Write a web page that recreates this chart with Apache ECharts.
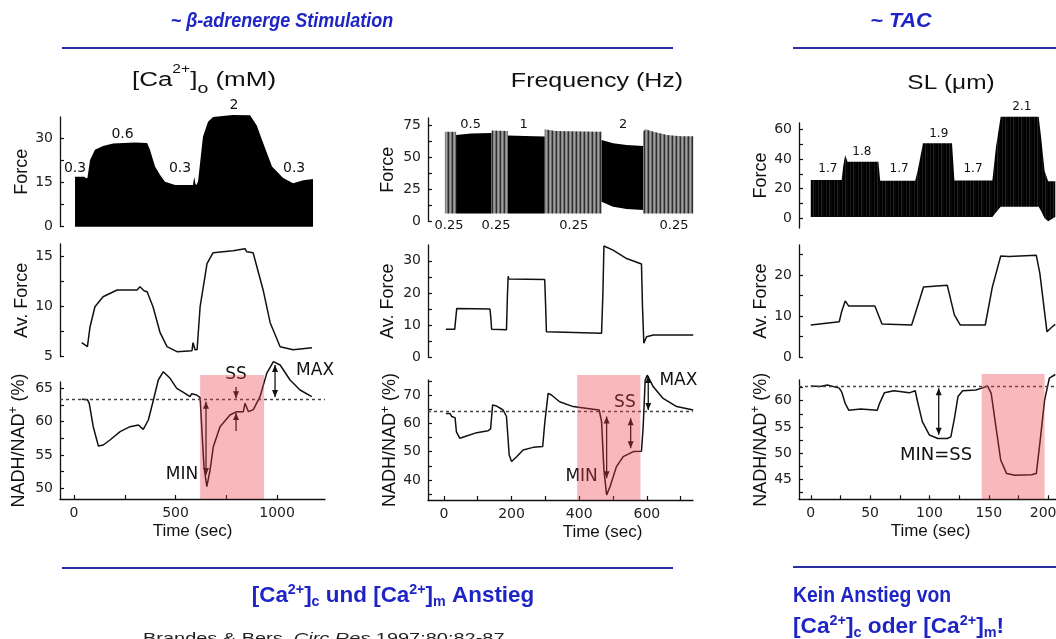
<!DOCTYPE html>
<html><head><meta charset="utf-8">
<script src="https://cdn.jsdelivr.net/npm/echarts@6/dist/echarts.min.js"></script>
<style>html,body{margin:0;padding:0;background:#fff}#c{width:1056px;height:639px}</style>
</head><body><div id="c"></div>
<script>
// ================= DATA =================
// ---- Column 1: [Ca2+]o ----
const caForceTime   = [5, 50, 60, 66, 79, 103, 143, 192, 300, 360, 374, 399, 424, 448, 498, 586, 592, 598, 604, 611, 635, 660, 685, 780, 867, 900, 926, 975, 1030, 1079, 1130, 1177];
const caForceTop    = [17, 17, 16.5, 16.6, 22.7, 26.2, 27.5, 28.4, 28.7, 28.5, 26.2, 20.5, 17.6, 15.3, 14.2, 14.2, 17, 14.5, 14.3, 15.5, 30.7, 35.8, 37.4, 38.1, 38, 34.5, 29.6, 20.5, 16.6, 14.8, 15.8, 16.3];
const caForceBottom = [0, 0, 0, 0, 0, 0, 0, 0, 0, 0, 0, 0, 0, 0, 0, 0, 0, 0, 0, 0, 0, 0, 0, 0, 0, 0, 0, 0, 0, 0, 0, 0];
const caForceLabels = ['0.3', '0.6', '0.3', '2', '0.3'];
const caForceLabelTime  = [5, 239, 522, 788, 1084];
const caForceLabelValue = [20, 31.6, 20, 41.2, 20];
const caAvTime  = [38, 66, 79, 103, 143, 212, 310, 325, 345, 360, 389, 424, 458, 507, 581, 586, 596, 606, 621, 655, 685, 783, 842, 850, 882, 931, 966, 1015, 1079, 1172];
const caAvValue = [6.4, 6.0, 8.0, 10.0, 11.0, 11.67, 11.67, 12.0, 11.6, 11.5, 10.0, 7.4, 6.0, 5.5, 5.6, 6.4, 5.7, 5.7, 10.0, 14.3, 15.4, 15.6, 15.8, 15.5, 15.4, 11.7, 8.4, 6.0, 5.7, 5.9];
const caNadhTime  = [38, 66, 75, 95, 120, 144, 177, 227, 276, 317, 341, 366, 391, 415, 440, 473, 506, 547, 571, 580, 604, 621, 629, 640, 654, 670, 686, 719, 768, 801, 834, 842, 859, 883, 916, 949, 982, 1015, 1064, 1113, 1171];
const caNadhValue = [63.35, 63.3, 62.75, 59.2, 56.35, 56.5, 57.25, 58.5, 59.25, 59.5, 58.85, 60.25, 63.25, 66.25, 67.5, 66.5, 65, 64.25, 63.75, 64.2, 64.0, 63.6, 59.2, 53.25, 50.25, 52.75, 56.25, 59.25, 61.0, 61.5, 61.5, 62.75, 61.5, 61.8, 63.75, 67.25, 69, 68.5, 66.25, 64.75, 63.75];
const caBaseline = 63.35;
const caPink = [621, 936, 67];           // start time, end time, top value
const caNadhLabels = ['MIN', 'SS', 'MAX'];
const caNadhLabelTime  = [532, 798, 1187];
const caNadhLabelValue = [52.0, 67.0, 67.6];
const caArrowTime  = [650, 798, 798, 990];
const caArrowFrom  = [63.0, 65.2, 58.6, 68.5];
const caArrowTo    = [52.0, 63.5, 61.3, 63.7];
const caArrowHeads = [2, 1, 1, 2];
const caTimeLabels = [0, 500, 1000];
const caTimeTicks  = [0, 250, 500, 750, 1000];
const caForceAxisLabels = [0, 15, 30];
const caForceAxisTicks  = [0, 7.5, 15, 22.5, 30];
const caAvAxisLabels = [5, 10, 15];
const caAvAxisTicks  = [5, 7.5, 10, 12.5, 15];
const caNadhAxisLabels = [50, 55, 60, 65];
const caNadhAxisTicks  = [50, 52.5, 55, 57.5, 60, 62.5, 65];

// ---- Column 2: Frequency (Hz) ----
const freqSegTime   = [[3, 36], [36, 80, 141], [141, 189], [189, 240, 298], [298, 330, 466], [466, 500, 540, 589], [589, 595, 620, 660, 700, 737]];
const freqSegTop    = [[70, 70], [67.5, 68.5, 69], [71, 70.5], [67, 66.6, 66.3], [72, 70.5, 70], [63.5, 61, 59.6, 58.8], [70, 72, 70, 67.5, 66.5, 66.5]];
const freqSegBottom = [[6, 6], [6, 6, 6], [6, 6], [6, 6, 6], [6, 6, 6], [15.3, 11.4, 9.6, 8.8], [6, 6, 6, 6, 6, 6]];
const freqSegDense  = [false, true, false, true, false, true, false];
const freqForceLabels = ['0.5', '1', '2', '0.25', '0.25', '0.25', '0.25'];
const freqForceLabelTime  = [79, 236, 530, 15, 154, 384, 680];
const freqForceLabelValue = [75.2, 75.2, 75.2, -3.4, -3.4, -3.4, -3.4];
const freqAvTime  = [6, 32, 35, 38, 136, 139, 141, 185, 188, 190, 192, 298, 301, 303, 466, 470, 473, 500, 540, 584, 587, 591, 599, 619, 737];
const freqAvValue = [8.7, 8.7, 12, 15.2, 15.0, 12, 8.7, 8.6, 20, 25.2, 24.3, 24.2, 15, 7.95, 7.45, 20, 34.6, 33.3, 30.7, 29.0, 15.7, 4.35, 6.4, 6.9, 6.9];
const freqNadhTime  = [6, 18, 23, 33, 37, 47, 67, 97, 131, 138, 144, 156, 175, 185, 193, 200, 215, 234, 264, 292, 298, 308, 318, 342, 382, 441, 459, 466, 473, 481, 491, 510, 530, 560, 584, 589, 595, 601, 619, 648, 688, 737];
const freqNadhValue = [63.5, 63.5, 62.4, 62.0, 57, 54.7, 55.5, 56.7, 57.4, 58, 66.5, 66.1, 64.7, 62.4, 48.8, 46.5, 48.2, 50.6, 51.5, 51.8, 60, 70.6, 70, 67.6, 65.9, 65.0, 64.7, 60.6, 43.5, 34.7, 37.6, 44.7, 48.2, 50, 50.1, 58.8, 75.3, 77, 72.9, 68.8, 65.9, 64.7];
const freqBaseline = 64.1;
const freqPink = [394, 581, 77.1];
const freqNadhLabels = ['MIN', 'SS', 'MAX'];
const freqNadhLabelTime  = [407, 535, 693];
const freqNadhLabelValue = [41.2, 67.2, 75.0];
const freqArrowTime  = [481, 552, 604];
const freqArrowFrom  = [62.4, 61.8, 76.7];
const freqArrowTo    = [40.6, 51.2, 64.7];
const freqArrowHeads = [2, 2, 2];
const freqTimeLabels = [0, 200, 400, 600];
const freqTimeTicks  = [0, 100, 200, 300, 400, 500, 600, 700];
const freqForceAxisLabels = [0, 25, 50, 75];
const freqForceAxisTicks  = [0, 12.5, 25, 37.5, 50, 62.5, 75];
const freqAvAxisLabels = [0, 10, 20, 30];
const freqAvAxisTicks  = [0, 5, 10, 15, 20, 25, 30];
const freqNadhAxisLabels = [40, 50, 60, 70];
const freqNadhAxisTicks  = [35, 40, 45, 50, 55, 60, 65, 70, 75];

// ---- Column 3: SL (um) ----
const slForceTime   = [0, 26, 27.5, 29, 31, 57, 58.5, 88, 90, 92, 94.5, 119, 121, 153, 156, 160, 192, 194, 197, 200, 206];
const slForceTop    = [25.8, 25.8, 36, 42.7, 38.2, 38.2, 25.4, 25.4, 32, 40, 50.6, 50.6, 25.5, 25.5, 48, 68.5, 68.5, 55, 32, 25, 25];
const slForceBottom = [1, 1, 1, 1, 1, 1, 1, 1, 1, 1, 1, 1, 1, 1, 4, 7.8, 7.8, 5, 0, -2, 1];
const slForceLabels = ['1.7', '1.8', '1.7', '1.9', '1.7', '2.1'];
const slForceLabelTime  = [14.4, 43, 74.4, 107.8, 136.7, 177.8];
const slForceLabelValue = [33.7, 44.9, 33.7, 56.8, 33.7, 75.3];
const slAvTime  = [0, 24, 26, 29, 32, 54, 57, 60, 85, 92, 95, 115, 121, 126, 147, 153, 160, 167, 190, 193, 199, 203, 206];
const slAvValue = [7.85, 8.65, 11.1, 13.7, 12.45, 12.45, 10.3, 8.1, 7.85, 14.3, 17.1, 17.5, 10.3, 7.85, 7.85, 17.1, 24.6, 24.5, 24.8, 20.4, 6.2, 7.3, 8.0];
const slNadhTime  = [0, 8, 14, 24, 26, 29, 32, 42, 56, 58, 62, 70, 83, 88, 90, 94, 100, 107, 115, 118, 121, 124, 128, 139, 144, 149, 152, 156, 160, 165, 172, 186, 190, 193, 197, 201, 206];
const slNadhValue = [62.8, 62.7, 63.0, 62.4, 61.7, 59.5, 58.2, 58.4, 58.2, 59.5, 61.5, 61.9, 61.5, 61.9, 59.8, 56, 53.45, 52.8, 52.8, 53.1, 56.6, 60.8, 61.9, 62.05, 62.4, 62.8, 61.4, 55, 48.7, 46.1, 45.8, 45.9, 46.1, 51.9, 60.1, 64.3, 65];
const slBaseline = 62.7;
const slPink = [144, 197, 65.1];
const slNadhLabels = ['MIN=SS'];
const slNadhLabelTime  = [105.6];
const slNadhLabelValue = [49.6];
const slArrowTime  = [107.8];
const slArrowFrom  = [62.4];
const slArrowTo    = [53.5];
const slArrowHeads = [2];
const slTimeLabels = [0, 50, 100, 150, 200];
const slTimeTicks  = [0, 25, 50, 75, 100, 125, 150, 175, 200];
const slForceAxisLabels = [0, 20, 40, 60];
const slForceAxisTicks  = [0, 10, 20, 30, 40, 50, 60];
const slAvAxisLabels = [0, 10, 20];
const slAvAxisTicks  = [0, 5, 10, 15, 20, 25];
const slNadhAxisLabels = [45, 50, 55, 60];
const slNadhAxisTicks  = [42.5, 45, 47.5, 50, 52.5, 55, 57.5, 60, 62.5];

// ================= STYLE / LAYOUT =================
const BLACK = '#111';
const PINK = 'rgba(235,60,75,0.36)';
const BLUE = '#1f25c4';
const BLUE_LINE = '#2b2f9e';
const AXF = '"DejaVu Sans", sans-serif';
const NMF = '"Liberation Sans", Arial, sans-serif';

function pattern(cols) {
  const c = document.createElement('canvas');
  c.width = cols.length; c.height = 2;
  const ctx = c.getContext('2d');
  cols.forEach((col, i) => { ctx.fillStyle = col; ctx.fillRect(i, 0, 1, 2); });
  return { type: 'pattern', image: c, repeat: 'repeat' };
}
const grayFill = pattern(['#2e2e2e', '#858585', '#a0a0a0', '#6a6a6a']);
const slFill = pattern(['#000', '#000', '#161616', '#000', '#000', '#262626', '#000', '#0a0a0a']);

// panel layout: [left, top, width, height, xmin, xmax, ymin, ymax]
const layout = [
  [60, 117, 265, 109.7, -69, 1236, 0, 37.4],
  [60, 244, 265, 112.7, -69, 1236, 5, 16.27],
  [60, 382, 265, 117, -69, 1236, 48.4, 65.95],
  [428, 118, 265, 103.3, -47, 736.3, 0, 80.7],
  [428, 245, 265, 112.3, -47, 736.3, 0, 34.9],
  [428, 380, 265, 120, -47, 736.3, 32.9, 75.3],
  [799, 123, 257, 105, -9.9, 206.6, -6.5, 64.3],
  [799, 245, 257, 112.3, -9.9, 206.6, 0, 27.3],
  [799, 380, 257, 119.3, -9.9, 206.6, 41.2, 63.95]
];
const yLabels = [caForceAxisLabels, caAvAxisLabels, caNadhAxisLabels, freqForceAxisLabels, freqAvAxisLabels, freqNadhAxisLabels, slForceAxisLabels, slAvAxisLabels, slNadhAxisLabels];
const yTicks  = [caForceAxisTicks, caAvAxisTicks, caNadhAxisTicks, freqForceAxisTicks, freqAvAxisTicks, freqNadhAxisTicks, slForceAxisTicks, slAvAxisTicks, slNadhAxisTicks];
const nadhName = '{a|NADH/NAD}{s|+}{a| (%)}';
const yNames = ['Force', 'Av. Force', nadhName, 'Force', 'Av. Force', nadhName, 'Force', 'Av. Force', nadhName];
const yNameGaps = [27, 28, 30, 31, 31, 25, 26, 26, 27];
const xLabels = [null, null, caTimeLabels, null, null, freqTimeLabels, null, null, slTimeLabels];
const xTicks  = [null, null, caTimeTicks, null, null, freqTimeTicks, null, null, slTimeTicks];
const xNamePad = [null, null, [0, 0, 0, 0], null, null, [0, 0, 0, 84], null, null, [0, 0, 0, 6]];
// the last column is cut by the page edge: keep its last label inside the page
const edgeLabel = [null, null, null, null, null, null, null, null, 200];

const grids = [], xAxes = [], yAxes = [];
layout.forEach((L, i) => {
  grids.push({ left: L[0], top: L[1], width: L[2], height: L[3], containLabel: false, outerBoundsMode: 'none' });
  const showX = !!xLabels[i];
  xAxes.push({
    type: 'value', gridIndex: i, min: L[4], max: L[5], show: showX,
    name: showX ? 'Time (sec)' : '', nameLocation: 'middle', nameGap: 24,
    nameTextStyle: { fontFamily: NMF, fontSize: 17, color: BLACK, padding: xNamePad[i] || 0 },
    axisLine: { show: true, onZero: false, lineStyle: { color: BLACK, width: 1.3 } },
    axisTick: { show: true, inside: true, length: 4, customValues: xTicks[i] || [], lineStyle: { color: BLACK, width: 1.2 } },
    axisLabel: { show: showX, customValues: xLabels[i] || [],
      formatter: v => (v === edgeLabel[i] ? '{r|' + v + '}' : String(v)),
      rich: { r: { fontFamily: AXF, fontSize: 14, color: '#222', padding: [0, 10, 0, 0] } },
      margin: 7, fontFamily: AXF, fontSize: 14, color: '#222' },
    splitLine: { show: false }
  });
  yAxes.push({
    type: 'value', gridIndex: i, min: L[6], max: L[7],
    name: yNames[i], nameLocation: 'middle', nameGap: yNameGaps[i], nameRotate: 90,
    nameTextStyle: { fontFamily: NMF, fontSize: 18, color: BLACK,
      rich: { a: { fontFamily: NMF, fontSize: 18, color: BLACK, lineHeight: 22 }, s: { fontFamily: NMF, fontSize: 12, color: BLACK, verticalAlign: 'top', lineHeight: 22 } } },
    axisLine: { show: true, onZero: false, lineStyle: { color: BLACK, width: 1.3 } },
    axisTick: { show: true, inside: true, length: 4, customValues: yTicks[i], lineStyle: { color: BLACK, width: 1.2 } },
    axisLabel: { show: true, customValues: yLabels[i], formatter: v => String(v), margin: 7, fontFamily: AXF, fontSize: 14, color: '#222' },
    splitLine: { show: false }
  });
});

// ================= SERIES BUILDERS =================
function bandSeries(idx, time, top, bottom, fill) {
  return {
    type: 'custom', xAxisIndex: idx, yAxisIndex: idx, z: 2, silent: true, animation: false,
    data: time.map((t, i) => [t, top[i], bottom[i]]),
    renderItem: (params, api) => {
      if (params.dataIndex !== 0) return null;
      const pts = [];
      for (let i = 0; i < time.length; i++) pts.push(api.coord([time[i], top[i]]));
      for (let i = time.length - 1; i >= 0; i--) pts.push(api.coord([time[i], bottom[i]]));
      return { type: 'polygon', shape: { points: pts }, style: { fill: fill, stroke: null } };
    }
  };
}
function lineSeries(idx, time, values, baseline) {
  const s = {
    type: 'line', xAxisIndex: idx, yAxisIndex: idx, z: 3, silent: true, animation: false, clip: false,
    symbol: 'none', showSymbol: false,
    lineStyle: { color: BLACK, width: 1.5 },
    data: time.map((t, i) => [t, values[i]])
  };
  if (baseline !== undefined) {
    s.markLine = { silent: true, animation: false, symbol: ['none', 'none'], label: { show: false },
      lineStyle: { type: [3, 3], color: '#444', width: 1.3 }, data: [{ yAxis: baseline }] };
  }
  return s;
}
function textSeries(idx, time, values, labels, size) {
  return {
    type: 'custom', xAxisIndex: idx, yAxisIndex: idx, z: 4, silent: true, animation: false,
    data: time.map((t, i) => [t, values[i]]),
    renderItem: (params, api) => {
      const i = params.dataIndex;
      const p = api.coord([time[i], values[i]]);
      return { type: 'text', x: p[0], y: p[1],
        style: { text: labels[i], fill: BLACK, font: size + 'px ' + AXF,
          align: 'center', verticalAlign: 'middle', textAlign: 'center', textVerticalAlign: 'middle' } };
    }
  };
}
function arrowSeries(idx, time, from, to, heads) {
  return {
    type: 'custom', xAxisIndex: idx, yAxisIndex: idx, z: 4, silent: true, animation: false,
    data: time.map((t, i) => [t, from[i]]),
    renderItem: (params, api) => {
      const i = params.dataIndex;
      const a = api.coord([time[i], from[i]]);
      const b = api.coord([time[i], to[i]]);
      const dir = b[1] > a[1] ? 1 : -1;
      const HL = 7, HW = 3;
      const kids = [
        { type: 'line', shape: { x1: a[0], y1: a[1], x2: b[0], y2: b[1] }, style: { stroke: BLACK, lineWidth: 1.3 } },
        { type: 'polygon', shape: { points: [[b[0], b[1]], [b[0] - HW, b[1] - dir * HL], [b[0] + HW, b[1] - dir * HL]] }, style: { fill: BLACK } }
      ];
      if (heads[i] === 2) {
        kids.push({ type: 'polygon', shape: { points: [[a[0], a[1]], [a[0] - HW, a[1] + dir * HL], [a[0] + HW, a[1] + dir * HL]] }, style: { fill: BLACK } });
      }
      return { type: 'group', children: kids };
    }
  };
}
function pinkSeries(idx, range, yMin) {
  return {
    type: 'custom', xAxisIndex: idx, yAxisIndex: idx, z: 6, silent: true, animation: false,
    data: [[range[0], range[2]]],
    renderItem: (params, api) => {
      const p1 = api.coord([range[0], range[2]]);
      const p2 = api.coord([range[1], yMin]);
      return { type: 'rect', shape: { x: p1[0], y: p1[1], width: p2[0] - p1[0], height: p2[1] - p1[1] }, style: { fill: PINK } };
    }
  };
}

const series = [];
// Column 1
series.push(bandSeries(0, caForceTime, caForceTop, caForceBottom, '#000'));
series.push(textSeries(0, caForceLabelTime, caForceLabelValue, caForceLabels, 14));
series.push(lineSeries(1, caAvTime, caAvValue));
series.push(lineSeries(2, caNadhTime, caNadhValue, caBaseline));
series.push(textSeries(2, caNadhLabelTime, caNadhLabelValue, caNadhLabels, 17));
series.push(arrowSeries(2, caArrowTime, caArrowFrom, caArrowTo, caArrowHeads));
series.push(pinkSeries(2, caPink, layout[2][6]));
// Column 2
freqSegTime.forEach((t, k) => series.push(bandSeries(3, t, freqSegTop[k], freqSegBottom[k], freqSegDense[k] ? '#000' : grayFill)));
series.push(textSeries(3, freqForceLabelTime, freqForceLabelValue, freqForceLabels, 13));
series.push(lineSeries(4, freqAvTime, freqAvValue));
series.push(lineSeries(5, freqNadhTime, freqNadhValue, freqBaseline));
series.push(textSeries(5, freqNadhLabelTime, freqNadhLabelValue, freqNadhLabels, 17));
series.push(arrowSeries(5, freqArrowTime, freqArrowFrom, freqArrowTo, freqArrowHeads));
series.push(pinkSeries(5, freqPink, layout[5][6]));
// Column 3
series.push(bandSeries(6, slForceTime, slForceTop, slForceBottom, slFill));
series.push(textSeries(6, slForceLabelTime, slForceLabelValue, slForceLabels, 12));
series.push(lineSeries(7, slAvTime, slAvValue));
series.push(lineSeries(8, slNadhTime, slNadhValue, slBaseline));
series.push(textSeries(8, slNadhLabelTime, slNadhLabelValue, slNadhLabels, 18));
series.push(arrowSeries(8, slArrowTime, slArrowFrom, slArrowTo, slArrowHeads));
series.push(pinkSeries(8, slPink, layout[8][6]));

// ================= TEXT & DECORATION =================
const blueRich = {
  a: { font: 'bold 22px ' + NMF, fill: BLUE, lineHeight: 26 },
  p: { font: 'bold 14px ' + NMF, fill: BLUE, verticalAlign: 'top', lineHeight: 26 },
  b: { font: 'bold 14px ' + NMF, fill: BLUE, verticalAlign: 'bottom', lineHeight: 26 }
};
const headRich = {
  a: { font: '20px ' + NMF, fill: BLACK, lineHeight: 32 },
  p: { font: '12px ' + NMF, fill: BLACK, verticalAlign: 'top', lineHeight: 32 },
  b: { font: '15px ' + NMF, fill: BLACK, verticalAlign: 'bottom', lineHeight: 32 }
};
function gText(x, y, text, opts) {
  return Object.assign({ type: 'text', x: x, y: y, silent: true,
    style: Object.assign({ text: text, align: 'center', verticalAlign: 'middle', textAlign: 'center', textVerticalAlign: 'middle' }, opts.style) },
    opts.el || {});
}
function gLine(x1, y1, x2, y2) {
  return { type: 'line', silent: true, shape: { x1: x1, y1: y1, x2: x2, y2: y2 }, style: { stroke: BLUE_LINE, lineWidth: 2 } };
}
const graphic = [
  gText(282, 21, '~ β-adrenerge Stimulation', { style: { font: 'italic bold 20px ' + NMF, fill: BLUE }, el: { scaleX: 0.9 } }),
  gText(901, 21, '~ TAC', { style: { font: 'italic bold 20px ' + NMF, fill: BLUE }, el: { scaleX: 1.08 } }),
  gLine(62, 48, 673, 48), gLine(793, 48, 1056, 48),
  gLine(62, 568, 673, 568), gLine(793, 567, 1056, 567),
  gText(204, 80, '{a|[Ca}{p|2+}{a|]}{b|o}{a| (mM)}', { style: { rich: headRich }, el: { scaleX: 1.3 } }),
  gText(597, 81, 'Frequency (Hz)', { style: { font: '20px ' + NMF, fill: BLACK }, el: { scaleX: 1.25 } }),
  gText(951, 83, 'SL (μm)', { style: { font: '20px ' + NMF, fill: BLACK }, el: { scaleX: 1.22 } }),
  gText(393, 596, '{a|[Ca}{p|2+}{a|]}{b|c}{a| und [Ca}{p|2+}{a|]}{b|m}{a| Anstieg}', { style: { rich: blueRich }, el: { scaleX: 1.02 } }),
  gText(793, 596, '{a|Kein Anstieg von}', { style: { rich: blueRich, align: 'left', textAlign: 'left' }, el: { scaleX: 0.88 } }),
  gText(793, 627, '{a|[Ca}{p|2+}{a|]}{b|c}{a| oder [Ca}{p|2+}{a|]}{b|m}{a|!}', { style: { rich: blueRich, align: 'left', textAlign: 'left' }, el: { scaleX: 1.03 } }),
  gText(143, 639, '{n|Brandes & Bers, }{i|Circ Res}{n| 1997;80:82-87}', {
    style: { align: 'left', textAlign: 'left', rich: { n: { font: '15px ' + NMF, fill: '#222' }, i: { font: 'italic 15px ' + NMF, fill: '#222' } } },
    el: { scaleX: 1.33 } })
];

const chart = echarts.init(document.getElementById('c'), null, { renderer: 'canvas' });
chart.setOption({
  animation: false,
  backgroundColor: '#fff',
  grid: grids, xAxis: xAxes, yAxis: yAxes,
  series: series,
  graphic: graphic
});
</script></body></html>
